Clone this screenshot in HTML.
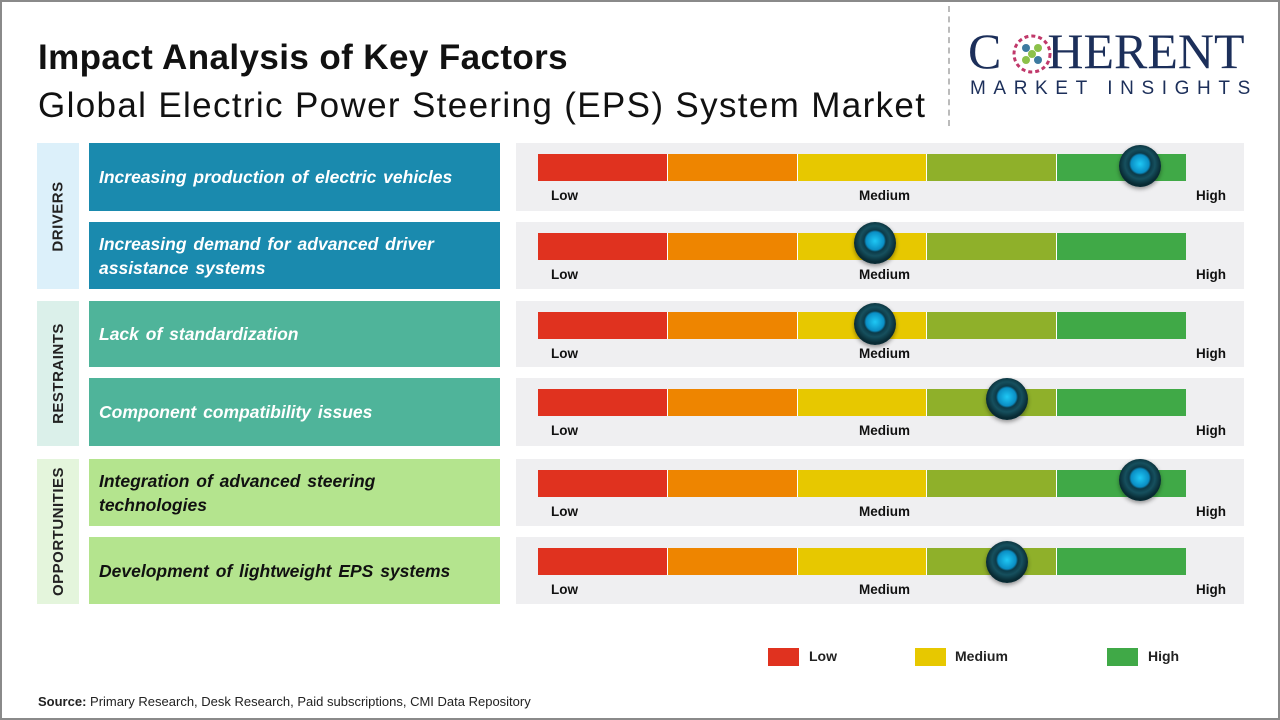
<!DOCTYPE html>
<html><head><meta charset="utf-8"><style>
*{margin:0;padding:0;box-sizing:border-box}
body{width:1280px;height:720px;background:#fff;font-family:"Liberation Sans",Arial,sans-serif;position:relative;overflow:hidden}
.a{position:absolute}
.frame{left:0;top:0;width:1280px;height:720px;border:2px solid #8a8a8a;z-index:5}
.t1{left:38px;top:38px;font-size:35px;font-weight:bold;color:#111;letter-spacing:0.4px}
.t2{left:38px;top:86px;font-size:35px;color:#111;letter-spacing:1.35px}
.cat{left:37px;width:42px;display:flex;align-items:center;justify-content:center}
.cat span{transform:rotate(-90deg);white-space:nowrap;font-weight:bold;font-size:15px;color:#222;letter-spacing:0.5px}
.box{left:89px;width:411px;color:#fff;font-style:italic;font-weight:bold;font-size:17.5px;display:flex;align-items:center;padding-left:10px;line-height:24px;word-spacing:2px}
.pan{left:516px;width:728px;background:#efeff1}
.bar{position:absolute;left:22px;top:11px;height:27px;width:648px;display:flex}
.bar div{flex:1;border-right:1px solid #fff}
.bar div:last-child{border-right:none}
.lb{position:absolute;top:45px;font-size:13.5px;font-weight:bold;color:#111}
.k{position:absolute;top:0px;width:42px;height:42px;border-radius:50%;background:radial-gradient(circle at 50% 45%,#1fc8f5 0,#0a8ec4 9px,#0c3a48 11px,#16505e 15px,#082a33 21px);box-shadow:0 2px 4px rgba(0,0,0,.4)}
.lg{top:648px;width:31px;height:18px}
.lt{top:648px;font-size:14px;font-weight:bold;color:#222}
</style></head><body>
<div class="a frame"></div>
<div class="a t1">Impact Analysis of Key Factors</div>
<div class="a t2">Global Electric Power Steering (EPS) System Market</div>
<div class="a" style="left:948px;top:6px;height:120px;border-left:2px dashed #bbb"></div>
<div class="a" style="left:968px;top:26px;font-family:'Liberation Serif',serif;font-size:50px;color:#1c2f5a;letter-spacing:0px;line-height:50px">C<span style="display:inline-block;width:46px"></span>HERENT</div>
<svg class="a" style="left:1012px;top:34px" width="40" height="40"><g>
<circle cx="20" cy="20" r="18" fill="none" stroke="#c0386a" stroke-width="3" stroke-dasharray="4 3"/>
<circle cx="14" cy="14" r="4" fill="#3d7aa0"/><circle cx="26" cy="14" r="4" fill="#8cc14a"/><circle cx="14" cy="26" r="4" fill="#8cc14a"/><circle cx="26" cy="26" r="4" fill="#3d7aa0"/><circle cx="20" cy="20" r="4" fill="#8cc14a"/></g></svg>
<div class="a" style="left:970px;top:78px;font-size:19px;color:#1c2f5a;letter-spacing:7.6px">MARKET INSIGHTS</div>

<div class="a cat" style="top:143px;height:146px;background:#dcf0fa"><span>DRIVERS</span></div>
<div class="a cat" style="top:301px;height:145px;background:#dbf0ea"><span>RESTRAINTS</span></div>
<div class="a cat" style="top:459px;height:145px;background:#e4f5dc"><span>OPPORTUNITIES</span></div>

<div class="a box" style="top:143px;height:68px;background:#1a8aae">Increasing production of electric vehicles</div>
<div class="a box" style="top:222px;height:67px;background:#1a8aae">Increasing demand for advanced driver<br>assistance systems</div>
<div class="a box" style="top:301px;height:66px;background:#4fb49a">Lack of standardization</div>
<div class="a box" style="top:378px;height:68px;background:#4fb49a">Component compatibility issues</div>
<div class="a box" style="top:459px;height:67px;background:#b4e48e;color:#111">Integration of advanced steering<br>technologies</div>
<div class="a box" style="top:537px;height:67px;background:#b4e48e;color:#111">Development of lightweight EPS systems</div>

<div class="a pan" style="top:143px;height:68px"><div class="bar"><div style="background:#e0321f"></div><div style="background:#ee8500"></div><div style="background:#e7c800"></div><div style="background:#8fb02a"></div><div style="background:#40a947"></div></div><div class="lb" style="left:35px">Low</div><div class="lb" style="left:343px">Medium</div><div class="lb" style="left:680px">High</div><div class="k" style="left:603px;top:2px"></div></div>
<div class="a pan" style="top:222px;height:67px"><div class="bar"><div style="background:#e0321f"></div><div style="background:#ee8500"></div><div style="background:#e7c800"></div><div style="background:#8fb02a"></div><div style="background:#40a947"></div></div><div class="lb" style="left:35px">Low</div><div class="lb" style="left:343px">Medium</div><div class="lb" style="left:680px">High</div><div class="k" style="left:338px;top:0px"></div></div>
<div class="a pan" style="top:301px;height:66px"><div class="bar"><div style="background:#e0321f"></div><div style="background:#ee8500"></div><div style="background:#e7c800"></div><div style="background:#8fb02a"></div><div style="background:#40a947"></div></div><div class="lb" style="left:35px">Low</div><div class="lb" style="left:343px">Medium</div><div class="lb" style="left:680px">High</div><div class="k" style="left:338px;top:2px"></div></div>
<div class="a pan" style="top:378px;height:68px"><div class="bar"><div style="background:#e0321f"></div><div style="background:#ee8500"></div><div style="background:#e7c800"></div><div style="background:#8fb02a"></div><div style="background:#40a947"></div></div><div class="lb" style="left:35px">Low</div><div class="lb" style="left:343px">Medium</div><div class="lb" style="left:680px">High</div><div class="k" style="left:470px;top:0px"></div></div>
<div class="a pan" style="top:459px;height:67px"><div class="bar"><div style="background:#e0321f"></div><div style="background:#ee8500"></div><div style="background:#e7c800"></div><div style="background:#8fb02a"></div><div style="background:#40a947"></div></div><div class="lb" style="left:35px">Low</div><div class="lb" style="left:343px">Medium</div><div class="lb" style="left:680px">High</div><div class="k" style="left:603px;top:0px"></div></div>
<div class="a pan" style="top:537px;height:67px"><div class="bar"><div style="background:#e0321f"></div><div style="background:#ee8500"></div><div style="background:#e7c800"></div><div style="background:#8fb02a"></div><div style="background:#40a947"></div></div><div class="lb" style="left:35px">Low</div><div class="lb" style="left:343px">Medium</div><div class="lb" style="left:680px">High</div><div class="k" style="left:470px;top:4px"></div></div>

<div class="a lg" style="left:768px;background:#e0321f"></div><div class="a lt" style="left:809px">Low</div>
<div class="a lg" style="left:915px;background:#e7c800"></div><div class="a lt" style="left:955px">Medium</div>
<div class="a lg" style="left:1107px;background:#40a947"></div><div class="a lt" style="left:1148px">High</div>

<div class="a" style="left:38px;top:694px;font-size:13px;color:#222"><b>Source:</b> Primary Research, Desk Research, Paid subscriptions, CMI Data Repository</div>
</body></html>
